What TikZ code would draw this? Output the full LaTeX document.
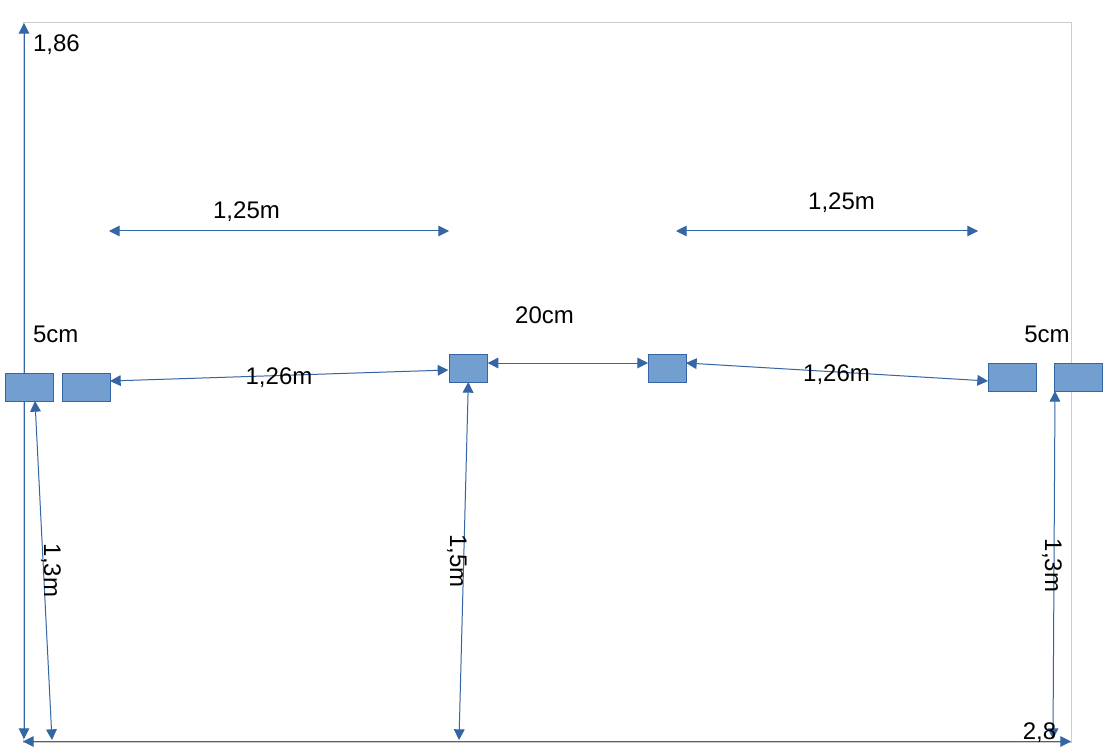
\documentclass[tikz,border=0pt]{standalone}
\usepackage{fontspec}
\setmainfont{Liberation Sans}
\usetikzlibrary{arrows.meta}
\definecolor{lineblue}{HTML}{3465A4}
\definecolor{boxblue}{HTML}{729FCF}
\definecolor{framegray}{HTML}{CCCCCC}
\tikzset{
  boxnode/.style={draw=lineblue,fill=boxblue,line width=0.75pt,inner sep=0pt,outer sep=0pt,anchor=north west},
  dim/.style={draw=lineblue,line width=0.75pt,{Triangle[length=8pt,width=8pt]}-{Triangle[length=8pt,width=8pt]}},
  tobox/.style={draw=lineblue,line width=0.75pt,-{Triangle[length=8pt,width=8pt]}},
  lbl/.style={font=\fontsize{18pt}{20pt}\selectfont,text=black,inner sep=0pt,outer sep=0pt,anchor=base},
  lblw/.style={lbl,anchor=base west},
  lblv/.style={lbl,rotate=-90}
}
\begin{document}
\begin{tikzpicture}[x=0.75pt,y=-0.75pt]
\useasboundingbox (0,0) rectangle (1105,755);
\fill[white] (0,0) rectangle (1105,755);
% frame
\node[draw=framegray,line width=0.75pt,inner sep=0pt,outer sep=0pt,anchor=north west,minimum width=786pt,minimum height=539.25pt] (frame) at (23,23) {};
% free ends
\coordinate (topl) at (24,23);
\coordinate (botl) at (24,739);
\coordinate (bl) at (23,741.5);
\coordinate (br) at (1071,741.5);
\coordinate (f1) at (52,740);
\coordinate (f2) at (459,740);
\coordinate (f3) at (1053,739);
\coordinate (u1a) at (109,231);
\coordinate (u1b) at (449,231);
\coordinate (u2a) at (676,231);
\coordinate (u2b) at (978,231);
% long lines behind the boxes
\draw[dim] (topl) -- (botl);
\draw[dim] (bl) -- (br);
% boxes
\node[boxnode,minimum width=36pt,minimum height=21pt] (b1) at (5,373) {};
\node[boxnode,minimum width=36pt,minimum height=21pt] (b2) at (62,373) {};
\node[boxnode,minimum width=29pt,minimum height=21pt] (b3) at (449,354) {};
\node[boxnode,minimum width=28.5pt,minimum height=21pt] (b4) at (648,354) {};
\node[boxnode,minimum width=36pt,minimum height=21pt] (b5) at (988,363) {};
\node[boxnode,minimum width=36pt,minimum height=21pt] (b6) at (1054,363) {};
% connectors
\draw[dim] (u1a) -- (u1b);
\draw[dim] (u2a) -- (u2b);
\draw[dim] ([yshift=4.5pt]b2.east) -- ([yshift=-1.5pt,xshift=-0.5pt]b3.west);
\draw[dim] ([yshift=3.75pt]b3.east) -- ([yshift=3.75pt]b4.west);
\draw[dim] ([yshift=3.75pt]b4.east) -- ([yshift=-3pt]b5.west);
\draw[dim] ([xshift=4.5pt]b1.south) -- (f1);
\draw[dim] (b3.south) -- (f2);
\draw[dim] ([xshift=-17.25pt]b6.south) -- (f3);
% labels
\node[lblw] (t186) at (33,52) {1,86};
\node[lblw] (t5l) at (33,342) {5cm};
\node[lbl] (t125a) at (246.5,219) {1,25m};
\node[lbl] (t125b) at (841.5,210) {1,25m};
\node[lbl] (t20) at (544.5,323) {20cm};
\node[lbl] (t126a) at (279,384) {1,26m};
\node[lbl] (t126b) at (836.5,381) {1,26m};
\node[lbl] (t5r) at (1047,342) {5cm};
\node[lblv] (t13a) at (44,570.5) {1,3m};
\node[lblv] (t15) at (450,561) {1,5m};
\node[lblv] (t13b) at (1045,565.5) {1,3m};
\node[lbl] (t28) at (1039.5,739) {2,8};
\end{tikzpicture}
\end{document}
